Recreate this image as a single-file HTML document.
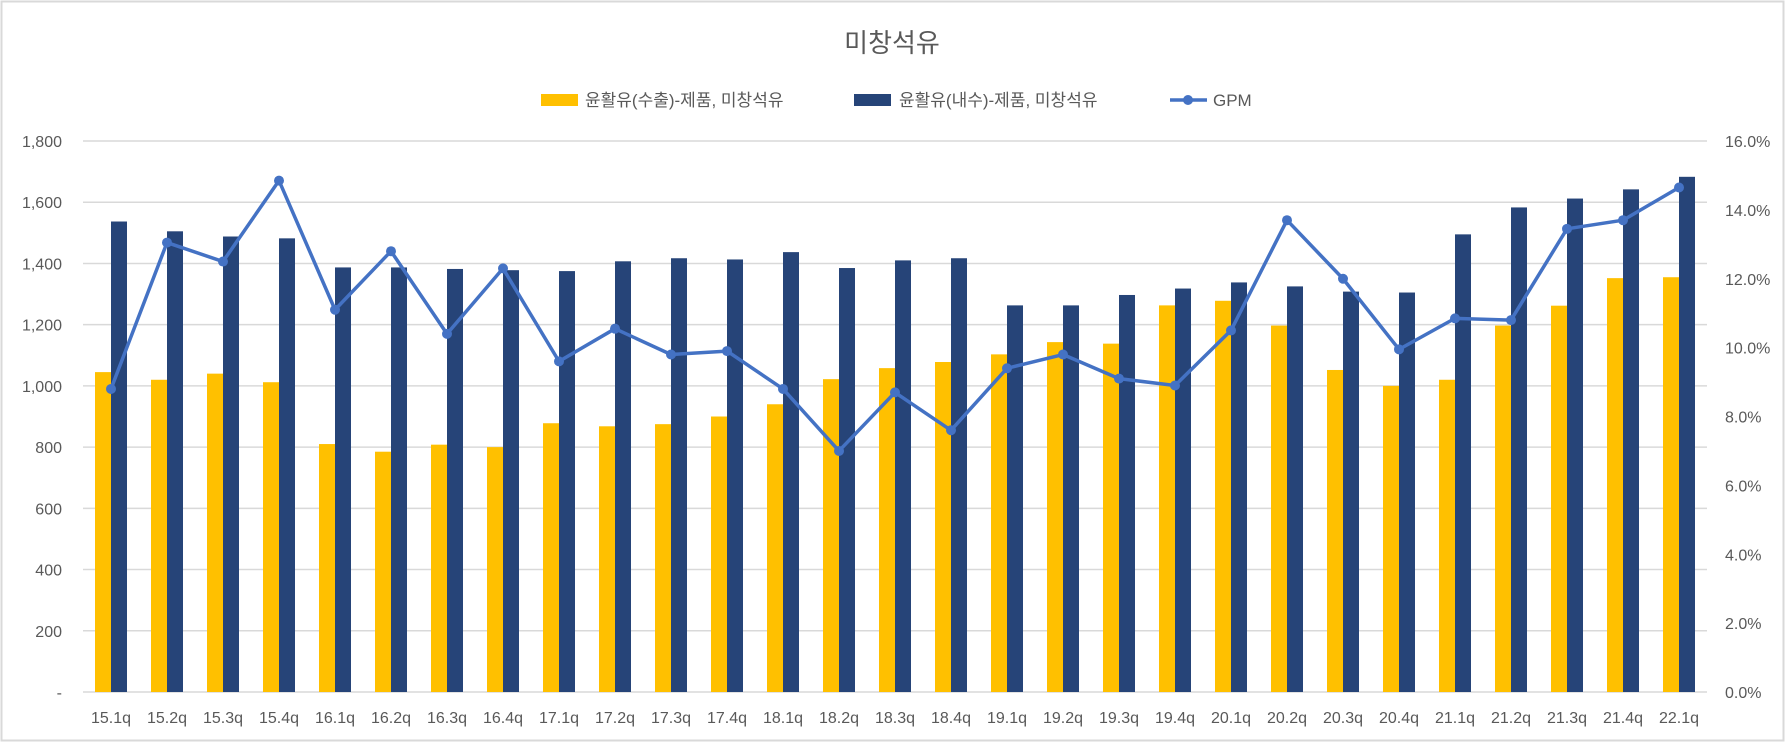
<!DOCTYPE html><html><head><meta charset="utf-8"><style>body{margin:0;background:#fff}svg{display:block}text{font-family:"Liberation Sans","Noto Sans CJK KR",sans-serif;fill:#595959}</style></head><body>
<svg id="c" width="1785" height="742" xmlns="http://www.w3.org/2000/svg"></svg>
<script>
const Y=[1045,1020,1040,1012,810,785,808,800,878,868,875,900,940,1022,1058,1078,1103,1143,1138,1263,1278,1197,1052,1000,1020,1197,1262,1352,1355];
const N=[1537,1505,1488,1482,1387,1387,1382,1378,1375,1407,1417,1413,1437,1385,1410,1417,1263,1263,1297,1318,1338,1325,1308,1305,1495,1583,1612,1642,1683];
const G=[8.8,13.05,12.5,14.85,11.1,12.8,10.4,12.3,9.6,10.55,9.8,9.9,8.8,7.0,8.7,7.6,9.4,9.8,9.1,8.9,10.5,13.7,12.0,9.95,10.85,10.8,13.45,13.7,14.65];
const L=[];for(let y=15;y<=22;y++)for(let q=1;q<=4;q++){if(y==22&&q>1)break;L.push(y+'.'+q+'q');}
const x0=83,x1=1707,y0=692,yt=141,w=(x1-x0)/29;
const yv=v=>y0-(y0-yt)*v/1800, yg=v=>y0-(y0-yt)*v/16;
let s='<rect x="1.5" y="1.5" width="1782" height="739" fill="#fff" stroke="#d9d9d9" stroke-width="2"/>';
s+='<text x="892" y="52" font-size="26" text-anchor="middle">미창석유</text>';
s+='<rect x="541" y="94" width="37" height="12" fill="#FFC000"/><text x="585" y="106" font-size="17">윤활유(수출)-제품, 미창석유</text>';
s+='<rect x="854" y="94" width="37" height="12" fill="#264478"/><text x="899" y="106" font-size="17">윤활유(내수)-제품, 미창석유</text>';
s+='<line x1="1170" y1="100" x2="1207" y2="100" stroke="#4472C4" stroke-width="3.5"/><circle cx="1188" cy="100" r="5" fill="#4472C4"/><text x="1213" y="106" font-size="17">GPM</text>';
for(let i=0;i<=9;i++){const v=i*200,y=yv(v);s+=`<line x1="${x0}" x2="${x1}" y1="${y}" y2="${y}" stroke="#d9d9d9" stroke-width="1.5"/>`;
s+=`<text x="62" y="${y+6}" font-size="16" text-anchor="end">${v==0?'-':v.toLocaleString('en-US')}</text>`;}
for(let i=0;i<=8;i++){const y=yg(i*2);s+=`<text x="1725" y="${y+6}" font-size="16">${(i*2).toFixed(1)}%</text>`;}
let p='';
for(let i=0;i<29;i++){const c=x0+w*(i+.5);
s+=`<rect x="${c-16}" y="${yv(Y[i])}" width="16" height="${y0-yv(Y[i])}" fill="#FFC000"/>`;
s+=`<rect x="${c}" y="${yv(N[i])}" width="16" height="${y0-yv(N[i])}" fill="#264478"/>`;
s+=`<text x="${c}" y="723" font-size="16" text-anchor="middle">${L[i]}</text>`;
p+=(i?'L':'M')+c+' '+yg(G[i]);}
s+=`<path d="${p}" fill="none" stroke="#4472C4" stroke-width="3.5" stroke-linejoin="round"/>`;
for(let i=0;i<29;i++){s+=`<circle cx="${x0+w*(i+.5)}" cy="${yg(G[i])}" r="5" fill="#4472C4"/>`;}
document.getElementById('c').innerHTML=s;
</script></body></html>
